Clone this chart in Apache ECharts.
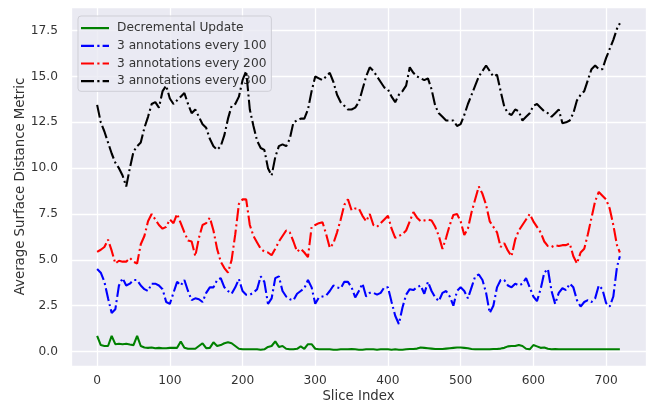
<!DOCTYPE html>
<html>
<head>
<meta charset="utf-8">
<script src="https://cdn.jsdelivr.net/npm/echarts@6/dist/echarts.min.js"></script>
<style>html,body{margin:0;padding:0;background:#fff;}#c{width:654px;height:404px;}</style>
</head>
<body>
<div id="c"></div>
<script>
// Slice indices sampled every 5 slices (plus the last slice 719)
const sliceIndex = [];
for (let i = 0; i <= 715; i += 5) sliceIndex.push(i);
sliceIndex.push(719);

const seriesNames = ['Decremental Update', '3 annotations every 100', '3 annotations every 200', '3 annotations every 300'];

const decremental = [
0.85,0.35,0.3,0.3,0.85,0.4,0.42,0.4,0.42,0.38,0.35,0.85,0.3,0.22,0.2,0.22,0.18,0.2,0.18,0.18,
0.2,0.2,0.2,0.55,0.2,0.15,0.15,0.15,0.3,0.45,0.18,0.2,0.5,0.3,0.35,0.45,0.5,0.45,0.3,0.15,
0.12,0.12,0.12,0.12,0.12,0.1,0.12,0.25,0.3,0.55,0.25,0.3,0.15,0.12,0.12,0.15,0.28,0.15,0.4,0.4,
0.15,0.12,0.12,0.12,0.12,0.1,0.1,0.12,0.12,0.12,0.14,0.12,0.1,0.1,0.12,0.12,0.12,0.1,0.12,0.12,
0.12,0.1,0.12,0.1,0.1,0.12,0.14,0.14,0.16,0.22,0.2,0.18,0.16,0.14,0.14,0.14,0.16,0.18,0.2,0.22,
0.22,0.2,0.18,0.14,0.12,0.12,0.12,0.12,0.12,0.14,0.14,0.16,0.2,0.28,0.3,0.3,0.36,0.3,0.15,0.12,
0.35,0.28,0.2,0.22,0.15,0.12,0.14,0.12,0.12,0.12,0.12,0.12,0.12,0.12,0.12,0.12,0.12,0.12,0.12,0.12,
0.12,0.12,0.12,0.12,0.12];

const every100 = [
4.5,4.3,3.8,2.9,2.1,2.3,3.6,4.0,3.6,3.7,3.9,3.9,3.6,3.4,3.3,3.7,3.7,3.6,3.4,2.7,
2.6,3.2,3.8,3.6,3.9,3.3,2.8,2.9,2.85,2.7,3.2,3.5,3.5,3.9,4.0,3.5,3.3,3.15,3.5,3.95,
3.3,3.1,3.1,3.2,3.4,4.1,3.8,2.6,2.9,4.0,4.1,3.3,3.0,2.85,2.8,3.15,3.3,3.45,3.9,3.5,
2.6,2.95,3.0,3.05,3.3,3.6,3.5,3.45,3.8,3.8,3.5,2.95,3.3,3.7,3.0,3.2,3.2,3.1,3.2,3.5,
3.5,2.7,1.95,1.5,2.4,3.1,3.4,3.35,3.5,3.6,3.15,3.8,3.3,2.95,2.75,3.2,3.3,3.0,2.5,3.3,
3.5,3.3,2.9,3.5,4.1,4.2,3.9,3.2,2.1,2.5,3.5,3.9,3.9,3.6,3.5,3.7,3.6,3.7,4.0,3.5,
3.0,2.75,3.4,4.3,4.5,3.3,2.6,3.2,3.45,3.35,3.7,3.5,2.8,2.45,2.7,2.8,2.7,2.9,3.6,3.4,
2.65,2.45,3.0,4.6,5.2];

const every200 = [
5.43,5.55,5.7,6.1,5.5,4.8,4.95,4.9,4.9,5.1,4.9,4.8,5.85,6.3,7.1,7.5,7.2,6.9,6.7,6.8,
7.2,7.0,7.5,7.0,6.5,6.05,6.0,5.2,6.2,6.9,7.0,7.3,6.6,5.6,4.9,4.55,4.3,5.0,6.4,8.05,
8.3,8.3,6.9,6.3,5.95,5.6,5.45,5.4,5.25,5.6,6.0,6.3,6.6,6.5,6.0,5.45,5.6,5.4,5.15,6.8,
6.9,7.0,7.05,6.4,5.65,5.9,6.5,7.2,8.0,8.3,7.7,7.8,7.8,7.4,7.1,7.5,6.9,6.8,7.0,7.2,
7.4,6.7,6.2,6.3,6.4,6.6,7.1,7.6,7.3,7.1,7.15,7.2,7.15,6.8,6.3,5.6,6.2,6.9,7.45,7.5,
7.1,6.35,6.7,7.6,8.3,9.0,8.6,8.0,7.1,6.8,6.5,5.7,5.9,5.5,5.2,6.1,6.6,6.9,7.2,7.5,
7.1,6.8,6.5,6.0,5.75,5.7,5.8,5.75,5.8,5.8,5.9,5.2,4.8,5.4,5.6,6.4,7.3,8.2,8.7,8.5,
8.3,7.8,6.9,5.8,5.4];

const every300 = [
13.45,12.5,12.0,11.4,10.8,10.3,10.0,9.6,9.0,10.0,10.9,11.2,11.4,12.2,12.8,13.5,13.6,13.3,14.2,14.5,
13.8,13.5,13.7,13.9,14.1,13.5,13.0,13.2,12.8,12.4,12.2,11.6,11.2,11.0,11.2,11.8,12.7,13.4,13.5,13.9,
14.8,15.3,13.2,12.3,11.5,11.1,11.0,10.0,9.6,10.6,11.2,11.3,11.2,11.6,12.5,12.6,12.7,12.7,13.2,14.2,
15.0,14.9,14.8,15.0,15.2,14.7,14.0,13.6,13.4,13.2,13.2,13.3,13.6,14.3,15.0,15.5,15.3,15.0,14.7,14.4,
14.3,13.9,13.6,14.0,14.2,14.5,15.5,15.2,15.0,14.9,14.8,14.9,14.3,13.4,13.0,12.8,12.6,12.6,12.6,12.3,
12.4,12.9,13.5,14.0,14.5,15.0,15.3,15.6,15.3,15.0,15.1,14.2,13.35,13.0,12.9,13.2,13.1,12.6,12.8,13.0,
13.4,13.5,13.3,13.1,13.0,12.8,13.0,13.2,12.45,12.5,12.6,13.0,13.7,14.0,14.2,14.8,15.4,15.6,15.4,15.4,
16.0,16.5,17.0,17.6,17.9];

const xTicks = [0, 100, 200, 300, 400, 500, 600, 700];
const yTicks = ['0.0', '2.5', '5.0', '7.5', '10.0', '12.5', '15.0', '17.5'];

const colors = ['#008000', '#0000ff', '#ff0000', '#000000'];
const values = [decremental, every100, every200, every300];
const dashDot = [13, 3.3, 2, 3.3];
const solidIcon = 'path://M0,0h28v2.2h-28z';
const dashDotIcon = 'path://M0,0h13v2.2h-13z M16.3,0h2.2v2.2h-2.2z M21.6,0h6.4v2.2h-6.4z';

const chart = echarts.init(document.getElementById('c'), null, {renderer: 'canvas'});
const font = 'DejaVu Sans';

chart.setOption({
  animation: false,
  backgroundColor: '#ffffff',
  grid: {left: 71, top: 7, right: 8, bottom: 38, show: true, backgroundColor: '#eaeaf2', borderWidth: 0,
    containLabel: false, outerBoundsMode: 'none'},
  xAxis: {
    type: 'value', min: -35.95, max: 754.95, minInterval: 100, maxInterval: 100,
    axisLine: {show: false}, axisTick: {show: false},
    splitLine: {show: true, lineStyle: {color: '#ffffff', width: 1.3}},
    axisLabel: {color: '#333333', fontFamily: font, fontSize: 12.2, margin: 9,
      showMinLabel: false, showMaxLabel: false,
      formatter: v => xTicks.includes(v) ? String(v) : ''},
    name: 'Slice Index', nameLocation: 'middle', nameGap: 24, nameMoveOverlap: false,
    nameTextStyle: {color: '#333333', fontFamily: font, fontSize: 13.3}
  },
  yAxis: {
    type: 'value', min: -0.79, max: 18.79, minInterval: 2.5, maxInterval: 2.5,
    axisLine: {show: false}, axisTick: {show: false},
    splitLine: {show: true, lineStyle: {color: '#ffffff', width: 1.3}},
    axisLabel: {color: '#333333', fontFamily: font, fontSize: 12.2, margin: 13,
      showMinLabel: false, showMaxLabel: false,
      formatter: v => { const s = v.toFixed(1); return yTicks.includes(s) ? s : ''; }},
    name: 'Average Surface Distance Metric', nameLocation: 'middle', nameGap: 44, nameMoveOverlap: false,
    nameTextStyle: {color: '#333333', fontFamily: font, fontSize: 13.3}
  },
  legend: {
    left: 78, top: 16, orient: 'vertical', itemGap: 3.5, itemWidth: 28, itemHeight: 2.2,
    symbolKeepAspect: false,
    padding: [5, 5, 3, 3],
    backgroundColor: 'rgba(234,234,242,0.8)', borderColor: '#cfcfd6', borderWidth: 1, borderRadius: 3,
    textStyle: {color: '#333333', fontFamily: font, fontSize: 12.2, lineHeight: 14.2, padding: [0, 0, 0, 3]},
    data: seriesNames.map((n, k) => ({name: n, icon: k === 0 ? solidIcon : dashDotIcon}))
  },
  series: seriesNames.map((name, k) => ({
    name: name, type: 'line', symbol: 'none', showSymbol: false,
    data: sliceIndex.map((x, j) => [x, values[k][j]]),
    lineStyle: {color: colors[k], width: 2.1, type: k === 0 ? 'solid' : dashDot},
    itemStyle: {color: colors[k]},
    z: 2 + k
  }))
});
</script>
</body>
</html>
